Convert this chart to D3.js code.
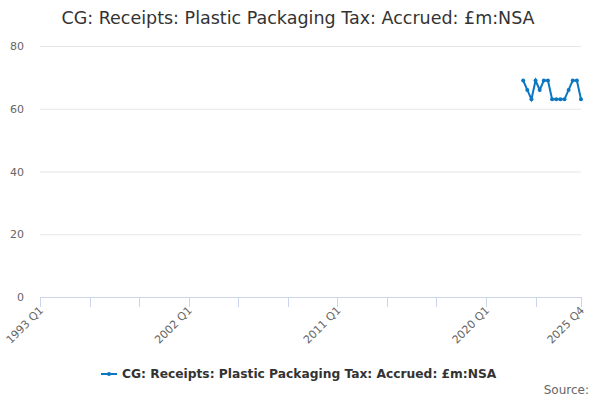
<!DOCTYPE html>
<html><head><meta charset="utf-8">
<script src="https://cdn.jsdelivr.net/npm/d3@7"></script>
<style>body{margin:0;background:#fff;font-family:"DejaVu Sans",sans-serif;}</style>
</head><body><svg id="c" width="600" height="400"></svg>
<script>
const title = "CG: Receipts: Plastic Packaging Tax: Accrued: £m:NSA";
const seriesName = "CG: Receipts: Plastic Packaging Tax: Accrued: £m:NSA";
const quarters = [];
for (let y = 1993; y <= 2025; y++) for (let q = 1; q <= 4; q++) quarters.push(y + " Q" + q);
const dataQuarters = ["2022 Q2","2022 Q3","2022 Q4","2023 Q1","2023 Q2","2023 Q3","2023 Q4","2024 Q1","2024 Q2","2024 Q3","2024 Q4","2025 Q1","2025 Q2","2025 Q3","2025 Q4"];
const values = [69,66,63,69,66,69,69,63,63,63,63,66,69,69,63];
const yTicks = [0,20,40,60,80];
const xLabels = ["1993 Q1","2002 Q1","2011 Q1","2020 Q1","2025 Q4"];

const svg = d3.select("#c");
const L = 40, R = 581, T = 46, B = 297;
const x = d3.scalePoint().domain(quarters).range([L, R]);
const y = d3.scaleLinear().domain([0, 80]).range([B, T]);
const color = "#0b77c2";

svg.append("text").attr("x", 298).attr("y", 24).attr("text-anchor", "middle")
  .attr("font-size", 17.5).attr("fill", "#333").text(title);

// grid
svg.append("g").selectAll("line").data(yTicks.filter(d => d > 0)).join("line")
  .attr("x1", L).attr("x2", R).attr("y1", d => y(d) + 0.5).attr("y2", d => y(d) + 0.5)
  .attr("stroke", "#e6e6e6");
svg.append("g").selectAll("text").data(yTicks).join("text")
  .attr("x", 24).attr("y", d => y(d) + 4).attr("text-anchor", "end")
  .attr("font-size", 11).attr("fill", "#666").text(d => d);

// x axis
svg.append("line").attr("x1", L).attr("x2", R + 1).attr("y1", B + 0.5).attr("y2", B + 0.5).attr("stroke", "#ccd6eb");
const tickQ = quarters.filter((d, i) => i % 12 === 0).concat(["2025 Q4"]);
svg.append("g").selectAll("line").data(tickQ).join("line")
  .attr("x1", d => Math.round(x(d)) + 0.5).attr("x2", d => Math.round(x(d)) + 0.5)
  .attr("y1", B).attr("y2", B + 10).attr("stroke", "#ccd6eb");
svg.append("g").selectAll("text").data(xLabels).join("text")
  .attr("transform", d => `translate(${x(d) + 4},${B + 14}) rotate(-45)`)
  .attr("text-anchor", "end").attr("font-size", 11).attr("fill", "#666").text(d => d);

// series
const pts = dataQuarters.map((q, i) => [x(q), y(values[i])]);
svg.append("path").attr("d", d3.line()(pts)).attr("fill", "none")
  .attr("stroke", color).attr("stroke-width", 2);
svg.append("g").selectAll("circle").data(pts).join("circle")
  .attr("cx", d => d[0]).attr("cy", d => d[1]).attr("r", 2).attr("fill", color);

// legend
svg.append("line").attr("x1", 101).attr("x2", 117).attr("y1", 374).attr("y2", 374).attr("stroke", color).attr("stroke-width", 2);
svg.append("circle").attr("cx", 109).attr("cy", 374).attr("r", 2).attr("fill", color);
svg.append("text").attr("x", 122).attr("y", 378).attr("font-size", 12.25).attr("font-weight", "bold")
  .attr("fill", "#333").text(seriesName);

svg.append("text").attr("x", 589).attr("y", 394).attr("text-anchor", "end")
  .attr("font-size", 12).attr("fill", "#666").text("Source:");
</script></body></html>
